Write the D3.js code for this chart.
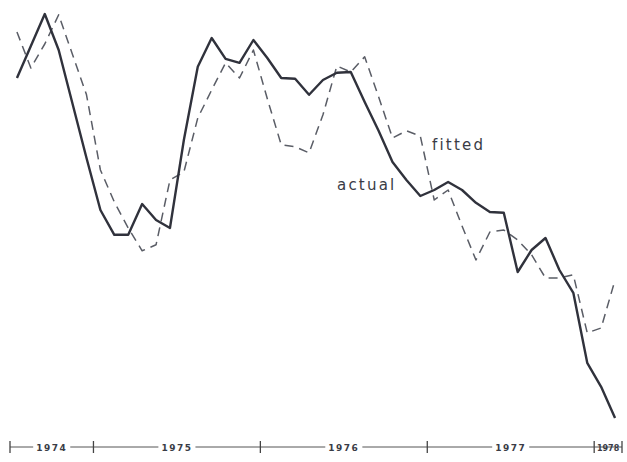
<!DOCTYPE html>
<html>
<head>
<meta charset="utf-8">
<script src="https://cdn.jsdelivr.net/npm/d3@7/dist/d3.min.js"></script>
<style>
  html, body { margin: 0; padding: 0; background: #fff; }
  svg { display: block; }
</style>
</head>
<body>
<svg id="chart" width="627" height="462"></svg>
<script>
// Monthly observations, July 1974 – February 1978 (index 0 = Jul 1974)
const months = d3.range(44);
const actual = [88, 96, 104, 95, 81.5, 68, 55, 48.8, 48.8, 56.5, 52.5, 50.5,
  72.5, 90.8, 98, 92.8, 91.8, 97.5, 93, 88, 87.8, 83.8, 87.5, 89.3,
  89.5, 82, 74.8, 67, 62.5, 58.5, 60, 62, 60, 56.8, 54.5, 54.3,
  39.5, 45, 48, 40, 34.3, 16.8, 10.8, 3];
const fitted = [99.5, 90.5, 96.5, 103.8, 93.8, 83.8, 65, 57, 50.5, 44.8, 46.3, 62.5,
  64.5, 78, 85, 91.8, 88, 95, 82.8, 71.3, 70.8, 69.3, 78.8, 91,
  89.5, 93.3, 83.3, 73, 74.8, 73.5, 57.5, 60, 51, 42.5, 49.5, 50,
  47.5, 43.8, 38, 38, 38.8, 24.3, 25.5, 37.5];
const yearLabels = ["1974", "1975", "1976", "1977", "1978"];
const yearBounds = [-0.5, 5.5, 17.5, 29.5, 41.5, 43.5];
const seriesLabels = ["actual", "fitted"];

const svg = d3.select("#chart");
const x = d3.scaleLinear().domain([-0.5, 43.5]).range([10, 622]);
const y = d3.scaleLinear().domain([0, 105]).range([430, 10]);

const line = d3.line().x((d, i) => x(months[i])).y(d => y(d));

svg.append("path")
  .datum(fitted)
  .attr("d", line)
  .attr("fill", "none")
  .attr("stroke", "#5a5d66")
  .attr("stroke-width", 1.5)
  .attr("stroke-dasharray", "9,6")
  .attr("stroke-linejoin", "round");

svg.append("path")
  .datum(actual)
  .attr("d", line)
  .attr("fill", "none")
  .attr("stroke", "#30323c")
  .attr("stroke-width", 2.4)
  .attr("stroke-linejoin", "round");

// Series labels
svg.append("text")
  .attr("x", 337).attr("y", 190)
  .attr("font-family", "DejaVu Sans, sans-serif")
  .attr("font-size", 15)
  .attr("letter-spacing", 2.2)
  .attr("fill", "#3a3c46")
  .text(seriesLabels[0]);
svg.append("text")
  .attr("x", 432).attr("y", 150)
  .attr("font-family", "DejaVu Sans, sans-serif")
  .attr("font-size", 15)
  .attr("letter-spacing", 2.2)
  .attr("fill", "#3a3c46")
  .text(seriesLabels[1]);

// Time axis
const axisY = 447;
const axis = svg.append("g");
axis.append("line")
  .attr("x1", x(yearBounds[0])).attr("x2", x(yearBounds[yearBounds.length - 1]))
  .attr("y1", axisY).attr("y2", axisY)
  .attr("stroke", "#555").attr("stroke-width", 1);
axis.selectAll("line.tick")
  .data(yearBounds)
  .join("line")
  .attr("class", "tick")
  .attr("x1", d => x(d)).attr("x2", d => x(d))
  .attr("y1", axisY - 6).attr("y2", axisY + 6)
  .attr("stroke", "#444").attr("stroke-width", 1.3);

yearLabels.forEach((lab, i) => {
  const cx = x((yearBounds[i] + yearBounds[i + 1]) / 2);
  const last = i === yearLabels.length - 1;
  const t = axis.append("text")
    .attr("x", cx).attr("y", axisY + 3.5)
    .attr("text-anchor", "middle")
    .attr("font-family", "DejaVu Sans, sans-serif")
    .attr("font-size", last ? 8 : 9)
    .attr("font-weight", "bold")
    .attr("letter-spacing", last ? 0 : 1.5)
    .attr("fill", "#3a3c46")
    .text(lab);
  const bb = t.node().getBBox();
  if (!last) {
    axis.insert("rect", "text")
      .attr("x", bb.x - 3).attr("y", bb.y)
      .attr("width", bb.width + 6).attr("height", bb.height)
      .attr("fill", "#fff");
  }
});
axis.selectAll("line.tick").raise();
</script>
</body>
</html>
